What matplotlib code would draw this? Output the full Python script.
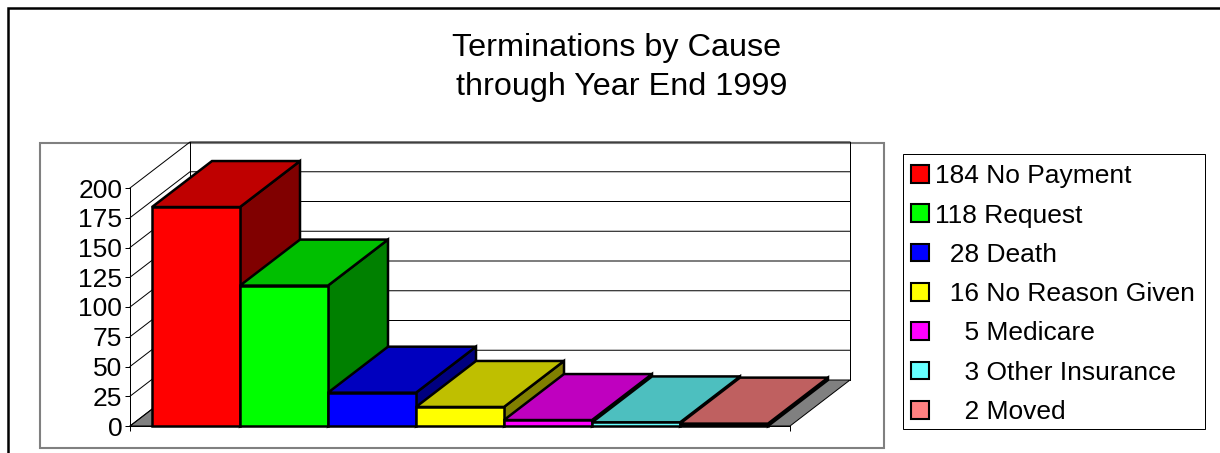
import matplotlib
matplotlib.use("Agg")
import matplotlib.pyplot as plt
from matplotlib.patches import Patch, Polygon, Rectangle
from matplotlib.lines import Line2D

plt.rcParams["font.family"] = ["Liberation Sans", "DejaVu Sans"]

causes = ["No Payment", "Request", "Death", "No Reason Given", "Medicare", "Other Insurance", "Moved"]
counts = [184, 118, 28, 16, 5, 3, 2]
colors = ["#FF0000", "#00FF00", "#0000FF", "#FFFF00", "#FF00FF", "#66FFFF", "#FF8080"]
yticks = [0, 25, 50, 75, 100, 125, 150, 175, 200]
legend_labels = ["184 No Payment", "118 Request", "  28 Death", "  16 No Reason Given",
                 "    5 Medicare", "    3 Other Insurance", "    2 Moved"]

W, H = 1220, 453
# oblique offset of the back wall, in axis units
DX = 60 / 88
DY = 46 / 1.19
X0, X1 = -0.25, 7.25
THIN = 0.72
EDGE = 1.8


def shade(hex_color, factor):
    r, g, b = matplotlib.colors.to_rgb(hex_color)
    return (r * factor, g * factor, b * factor)


def px_line(fig, xs, ys, **kw):
    fig.add_artist(Line2D([x / W for x in xs], [1 - y / H for y in ys], transform=fig.transFigure, **kw))


fig = plt.figure(figsize=(W / 100, H / 100), dpi=100, facecolor="white")

# outer frame only shows on the top and left
px_line(fig, [8, 8, W], [H, 8, 8], color="black", linewidth=1.8, solid_joinstyle="miter")
# plot area border sits under the axes
fig.add_artist(Rectangle((40.5 / W, 1 - 448 / H), 844 / W, 305.5 / H, transform=fig.transFigure,
                         facecolor="none", edgecolor="#808080", linewidth=1.5, zorder=-1))
# legend box is drawn on its own so the rows can be nudged inside it
fig.add_artist(Rectangle((902.5 / W, 1 - 429 / H), 302.5 / W, 275.5 / H, transform=fig.transFigure,
                         facecolor="white", edgecolor="black", linewidth=THIN, zorder=-1))

fig.text(616.5 / W, 1 - 48 / H, "Terminations by Cause", fontsize=23.3, ha="center", va="center")
fig.text(621.5 / W, 1 - 87 / H, "through Year End 1999", fontsize=23.3, ha="center", va="center")

ax = fig.add_axes([130 / W, 27 / H, 660 / W, 238 / H])
ax.set_xlim(X0, X1)
ax.set_ylim(0, 200)
ax.patch.set_visible(False)
for side in ["top", "right"]:
    ax.spines[side].set_visible(False)
for side in ["left", "bottom"]:
    ax.spines[side].set_linewidth(THIN)
ax.set_yticks(yticks)
ax.set_xticks([X0, X1])
ax.set_xticklabels([])
ax.tick_params(axis="y", labelsize=19, length=3.5, width=THIN, pad=2)
ax.tick_params(axis="x", length=3.5, width=THIN)

# floor
ax.add_patch(Polygon([(X0, 0), (X1, 0), (X1 + DX, DY), (X0 + DX, DY)], closed=True, facecolor="#808080",
                     edgecolor="black", linewidth=THIN, clip_on=False, zorder=1))

# walls and gridlines
for tick in yticks[1:]:
    ax.plot([X0, X0 + DX, X1 + DX], [tick, tick + DY, tick + DY], color="black", linewidth=THIN,
            clip_on=False, zorder=1)
ax.plot([X0, X0 + DX], [0, DY], color="black", linewidth=THIN, clip_on=False, zorder=1)
ax.plot([X0 + DX, X0 + DX], [DY, 200 + DY], color="black", linewidth=THIN, clip_on=False, zorder=1)
ax.plot([X1 + DX, X1 + DX], [DY, 200 + DY], color="black", linewidth=THIN, clip_on=False, zorder=1)

# bars, drawn left to right so each one covers the side of the previous one
for i, (count, color) in enumerate(zip(counts, colors)):
    z = 2 + i
    ax.add_patch(Polygon([(i + 1, 0), (i + 1 + DX, DY), (i + 1 + DX, count + DY), (i + 1, count)], closed=True,
                         facecolor=shade(color, 0.5), edgecolor="black", linewidth=EDGE, clip_on=False,
                         joinstyle="miter", zorder=z))
    ax.add_patch(Polygon([(i, count), (i + 1, count), (i + 1 + DX, count + DY), (i + DX, count + DY)], closed=True,
                         facecolor=shade(color, 0.75), edgecolor="black", linewidth=EDGE, clip_on=False,
                         joinstyle="miter", zorder=z))
    ax.bar(i, count, width=1, align="edge", color=color, edgecolor="black", linewidth=EDGE, clip_on=False, zorder=z)

handles = [Patch(facecolor=c, edgecolor="black", linewidth=1.5) for c in colors]
fig.legend(handles, legend_labels, loc="upper left", bbox_to_anchor=(902.5 / W, 1 - 155.5 / H),
           borderaxespad=0, fontsize=19, frameon=False,
           labelspacing=0.58, handlelength=0.66, handleheight=0.66, handletextpad=0.25, borderpad=0.33)

fig.savefig("out.png", dpi=100)
